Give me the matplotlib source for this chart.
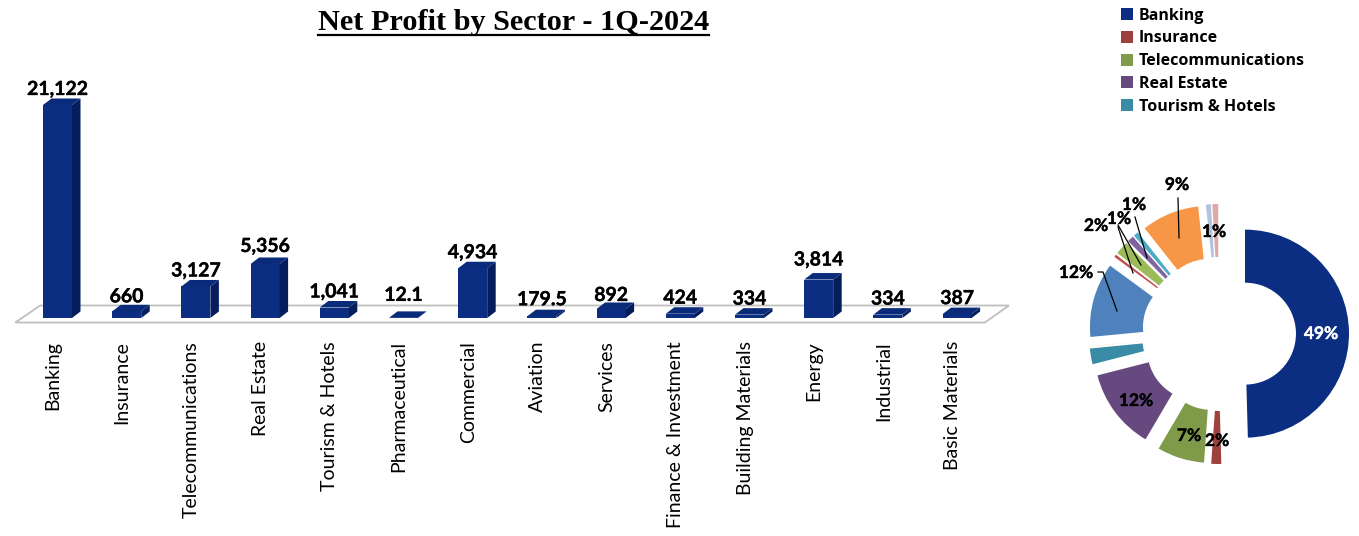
import matplotlib
matplotlib.use("Agg")
import matplotlib.pyplot as plt
import matplotlib.patheffects as pe
from matplotlib.patches import Polygon
from matplotlib.lines import Line2D
from matplotlib.transforms import Affine2D

sectors = ["Banking", "Insurance", "Telecommunications", "Real Estate", "Tourism & Hotels",
           "Pharmaceutical", "Commercial", "Aviation", "Services", "Finance & Investment",
           "Building Materials", "Energy", "Industrial", "Basic Materials"]
profit = [21122, 660, 3127, 5356, 1041, 12.1, 4934, 179.5, 892, 424, 334, 3814, 334, 387]
bar_labels = ["21,122", "660", "3,127", "5,356", "1,041", "12.1", "4,934", "179.5", "892",
              "424", "334", "3,814", "334", "387"]
pie_colors = ["#0B2E83", "#9E413E", "#7F9A48", "#664A7F", "#3A8BA5", "#F5B58C", "#4F81BD",
              "#C0504D", "#9BBB59", "#8064A2", "#4BACC6", "#F79646", "#B3C3DF", "#DFA9A8"]
pie_labels = ["49%", "2%", "7%", "12%", "12%", "2%", "1%", "1%", "9%", "1%"]

W, H = 1359, 536
fig = plt.figure(figsize=(W / 100, H / 100), dpi=100, facecolor="white")
px = Affine2D().scale(1 / W, -1 / H).translate(0, 1) + fig.transFigure
LATO = "Lato"
heavy = [pe.withStroke(linewidth=0.25, foreground="black")]
heavy_w = [pe.withStroke(linewidth=0.25, foreground="white")]

# ---- bar axes: category i is centred at 57.5 + 69.2 i px, value 0 at y = 318 px
ax = fig.add_axes([0, 0, 1, 1], zorder=1)
step, x0 = 69.2, 57.5
ax.set_xlim(-x0 / step, (W - x0) / step)
ppv = 213 / 21122
ax.set_ylim(-(H - 318) / ppv, 318 / ppv)
ax.axis("off")
bw = 29 / step
dx, dy = 8.5 / step, 6.5 / ppv

# floor
fl = [(-0.61, -4.5 / ppv), (13.4, -4.5 / ppv), (13.75, 12.5 / ppv), (-0.25, 12.5 / ppv)]
ax.add_patch(Polygon(fl, closed=True, facecolor="white", edgecolor="#BFBFBF", lw=1.3, zorder=1))

# label placement relative to the bar top, in px downward (the reference places them by hand)
nudge = [1, 2, 1, -1, 1, -6, 1, 0, 3, 1, 1, -3, 1, 1]
front, side, top = "#0B2E83", "#061D5C", "#0A2A7A"
for i, v in enumerate(profit):
    l, r = i - bw / 2, i + bw / 2
    ax.bar(i, v, width=bw, color=front, zorder=3)
    ax.add_patch(Polygon([(r, 0), (r + dx, dy), (r + dx, v + dy), (r, v)], color=side, lw=0, zorder=3))
    ax.add_patch(Polygon([(l, v), (r, v), (r + dx, v + dy), (l + dx, v + dy)], color=top, lw=0, zorder=3))
    ax.text(i, v + dy + (1.5 - nudge[i]) / ppv, bar_labels[i], ha="center", va="bottom", fontsize=14,
            fontweight="bold", family=LATO, color="black", zorder=4, path_effects=heavy)
    ax.text(i - 0.065, -23 / ppv, sectors[i], rotation=90, ha="center", va="top", fontsize=14,
            family=LATO, color="black")

# ---- title
title = fig.text(513.5, 22, "Net Profit by Sector - 1Q-2024", transform=px, ha="center", va="center",
                 fontsize=21.8, fontweight="bold", family="Liberation Serif", color="black")
fig.canvas.draw()
bb = title.get_window_extent()
fig.add_artist(Line2D([bb.x0, bb.x1], [H - 35, H - 35], transform=None, color="black", lw=1.6))

# ---- donut: centre (1219, 334), radius 104 px
half = 140
pa = fig.add_axes([(1219 - half) / W, (H - 334 - half) / H, 2 * half / W, 2 * half / H], zorder=2)
wedges, _ = pa.pie(profit, colors=pie_colors, startangle=90, counterclock=False,
                   explode=[0.25] * len(profit), radius=1,
                   wedgeprops=dict(width=0.51, linewidth=0))
pa.set_xlim(-half / 104, half / 104)
pa.set_ylim(-half / 104, half / 104)
pa.set_aspect("equal")

label_pos = [(1321, 334), (1217, 441), (1189, 436), (1136, 401), (1076, 273),
             (1096, 226), (1119, 219), (1134, 205), (1177, 185), (1214, 232)]
for s, (x, y) in zip(pie_labels, label_pos):
    white = s == "49%"
    fig.text(x, y, s, transform=px, ha="center", va="center", fontsize=12.5, fontweight="bold",
             family=LATO, color="white" if white else "black", zorder=6,
             path_effects=heavy_w if white else heavy)

leaders = [[(1098, 272), (1103, 272), (1117, 311)],
           [(1118, 227), (1133, 273)],
           [(1118, 225), (1141, 265)],
           [(1135, 217), (1147, 258)],
           [(1178, 198), (1179, 238)]]
for seg in leaders:
    fig.add_artist(Line2D([p[0] for p in seg], [p[1] for p in seg], transform=px,
                          color="black", lw=0.9, zorder=5))

# ---- legend
fig.legend(wedges[:5], sectors[:5], loc="upper left", bbox_to_anchor=(1116 / W, 1 - 3 / H),
           frameon=False, ncol=1, handlelength=0.78, handleheight=0.78, handletextpad=0.35,
           labelspacing=0.42, borderpad=0.3, borderaxespad=0,
           prop=dict(family="Open Sans", weight="bold", size=11.5))

fig.savefig("out.png", dpi=100, facecolor="white")
